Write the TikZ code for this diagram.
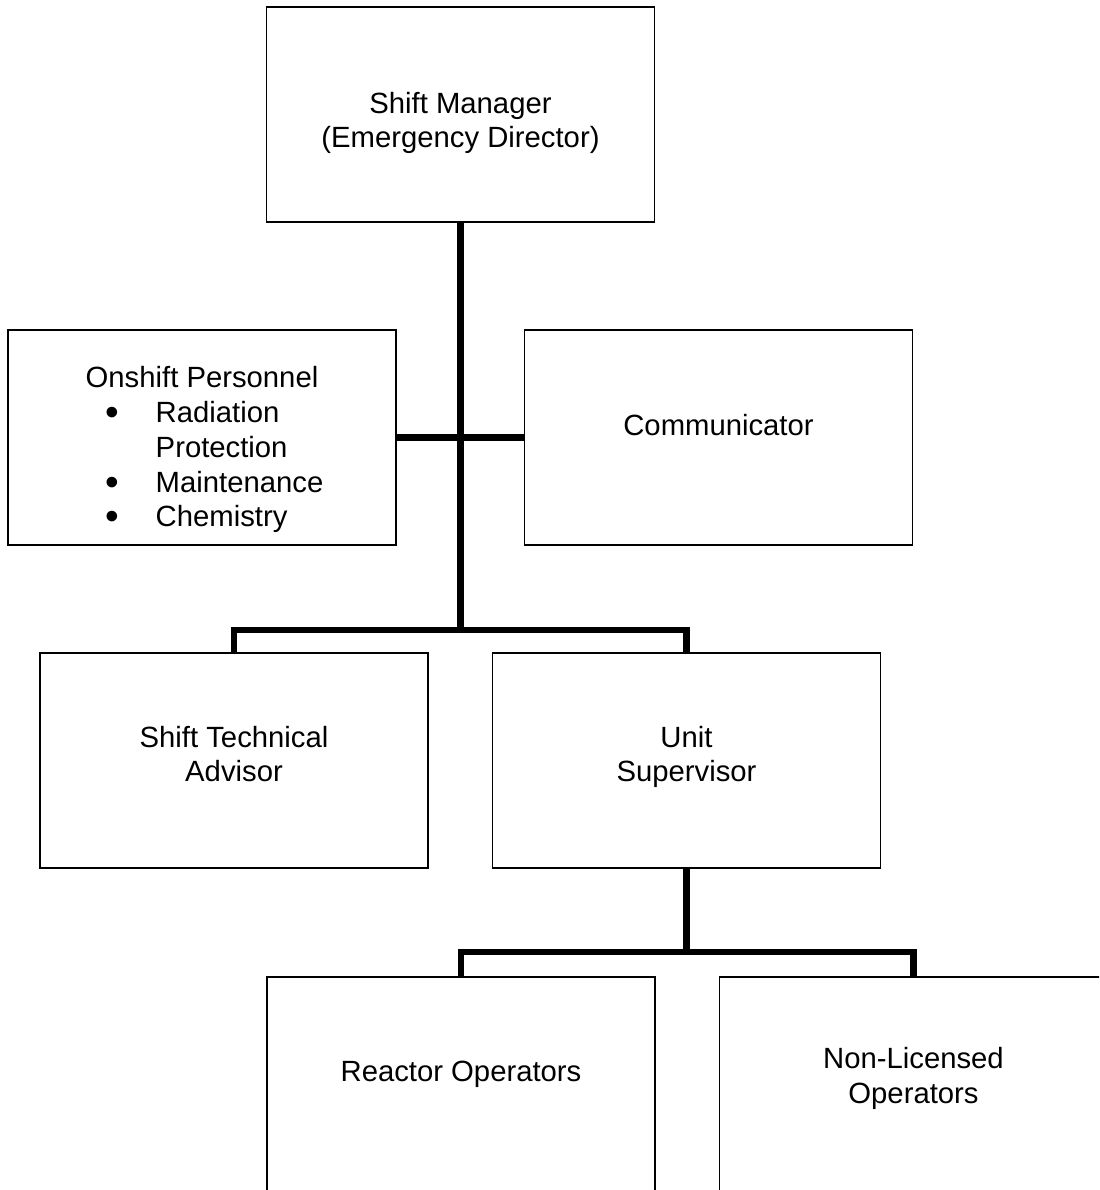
\documentclass[tikz,border=0pt]{standalone}
\usepackage{fontspec}
\setmainfont{Liberation Sans}
\usepackage{tikz}
\tikzstyle{orgbox} = [draw=black, line width=0.6pt, rectangle, minimum width=159pt, minimum height=88.2pt, inner sep=0pt, outer sep=0pt]
\tikzstyle{orgtext} = [align=center, inner sep=0pt, font=\fontsize{12}{14.2}\selectfont]
\tikzstyle{orglist} = [inner sep=0pt, anchor=west, font=\fontsize{12}{14.2}\selectfont]
\tikzstyle{orglink} = [draw=black, line width=2.5pt]
\newcommand{\orgbullet}{{\fontsize{16}{14.2}\selectfont\raisebox{-1.2pt}{\textbullet}}}

\begin{document}
\begin{tikzpicture}[x=0.41pt, y=-0.41pt]
\useasboundingbox (0,0) rectangle (1099,1190);
\clip (0,0) rectangle (1099,1190);

% caselle
\node [orgbox] (sm)  at (460.5,114.5)  {};
\node [orgbox] (os)  at (202,437.5)    {};
\node [orgbox] (cm)  at (718.5,437.5)  {};
\node [orgbox] (sta) at (234,760.5)    {};
\node [orgbox] (us)  at (686.5,760.5)  {};
\node [orgbox] (ro)  at (461,1084.5)   {};
\node [orgbox] (nlo) at (913.5,1084.5) {};

% testi
\node [orgtext] (smtext)  at (460.5,123)  {Shift Manager\\(Emergency Director)};
\node [orgtext] (ostitle) at (202,377)    {Onshift Personnel};
\node [orglist] (oslist)  at (105,468)    {%
    \begin{tabular}{@{}l@{\hspace{15pt}}l@{}}
        \orgbullet & Radiation\\
                   & Protection\\
        \orgbullet & Maintenance\\
        \orgbullet & Chemistry
    \end{tabular}};
\node [orgtext] (cmtext)  at (718.5,425)  {Communicator};
\node [orgtext] (statext) at (234,754)    {Shift Technical\\Advisor};
\node [orgtext] (ustext)  at (686.5,757)  {Unit\\Supervisor};
\node [orgtext] (rotext)  at (461,1074)   {Reactor Operators};
\node [orgtext] (nlotext) at (913.5,1078.5) {Non-Licensed\\Operators};

% collegamenti
\coordinate (split1) at (460.5,630);
\coordinate (split2) at (686.5,952);
\draw [orglink] (sm.south) -- (split1);
\draw [orglink] (os.east) -- (cm.west);
\draw [orglink] (sta.north) |- (split1) -| (us.north);
\draw [orglink] (us.south) -- (split2);
\draw [orglink] (ro.north) |- (split2) -| (nlo.north);
\end{tikzpicture}
\end{document}
